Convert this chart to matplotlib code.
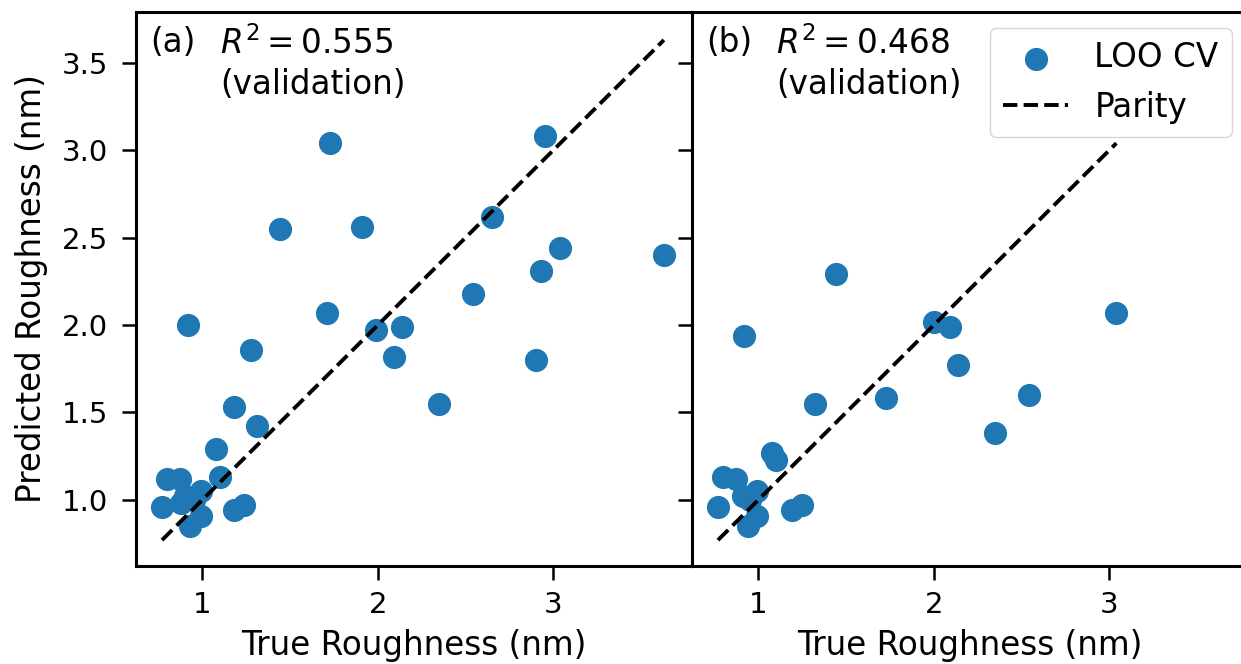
import numpy as np
import matplotlib
matplotlib.use('Agg')
import matplotlib.pyplot as plt

# panel (a): true vs predicted (LOO CV)
true_a = [1.73, 2.95, 1.44, 1.91, 2.65, 3.04, 2.93, 3.63, 2.54, 1.71, 0.92, 1.99,
          2.14, 2.09, 1.28, 2.90, 2.35, 1.18, 1.31, 1.08, 1.10, 0.80, 0.87, 0.77,
          0.99, 0.90, 0.93, 0.99, 1.18, 1.24, 0.95, 0.88]
pred_a = [3.04, 3.08, 2.55, 2.56, 2.62, 2.44, 2.31, 2.40, 2.18, 2.07, 2.00, 1.97,
          1.99, 1.82, 1.86, 1.80, 1.55, 1.53, 1.42, 1.29, 1.13, 1.12, 1.12, 0.96,
          1.05, 1.02, 0.85, 0.91, 0.94, 0.97, 1.00, 0.98]

# panel (b)
true_b = [1.44, 2.00, 2.09, 2.14, 3.04, 0.92, 1.73, 1.32, 2.54, 2.35, 1.08, 1.10,
          0.80, 0.87, 0.77, 0.99, 0.91, 0.94, 0.99, 1.19, 1.25, 0.95]
pred_b = [2.29, 2.02, 1.99, 1.77, 2.07, 1.94, 1.58, 1.55, 1.60, 1.38, 1.27, 1.23,
          1.13, 1.12, 0.96, 1.05, 1.02, 0.85, 0.91, 0.94, 0.97, 1.00]

r2_vals = ['0.555', '0.468']
tags = ['(a)', '(b)']
lims = (0.622, 3.79)

FS = 23.5
plt.rcParams['font.family'] = 'DejaVu Sans'
plt.rcParams['font.size'] = FS

fig = plt.figure(figsize=(12.41, 6.64), dpi=100)
W = 556 / 1241
ax1 = fig.add_axes([136 / 1241, 98 / 664, W, 554 / 664])
ax2 = fig.add_axes([692 / 1241, 98 / 664, W, 554 / 664], sharey=ax1)

for ax, xt, yp, tag, r2 in zip([ax1, ax2], [true_a, true_b], [pred_a, pred_b], tags, r2_vals):
    ax.scatter(xt, yp, s=245, color='#1f77b4', label='LOO CV', zorder=2)
    lo, hi = min(xt), max(xt)
    ax.plot([lo, hi], [lo, hi], 'k--', lw=2.8, label='Parity', zorder=3)
    ax.set_xlim(lims)
    ax.set_ylim(lims)
    ax.set_xticks([1, 2, 3])
    ax.set_xlabel('True Roughness (nm)', fontsize=FS, labelpad=7)
    ax.tick_params(labelsize=21, length=10, width=1.8, pad=8)
    for s in ax.spines.values():
        s.set_linewidth(2.2)
    ax.text(0.025, 0.975, tag, transform=ax.transAxes, va='top', ha='left', fontsize=FS)
    ax.text(0.151, 0.975, '$R^2 = ' + r2 + '$\n(validation)', transform=ax.transAxes,
            va='top', ha='left', fontsize=FS, linespacing=1.27)

ax1.set_yticks([1.0, 1.5, 2.0, 2.5, 3.0, 3.5])
ax1.tick_params(axis='y', pad=10)
ax1.set_ylabel('Predicted Roughness (nm)', fontsize=FS, labelpad=10)
ax2.tick_params(labelleft=False)
ax2.legend(loc='upper right', fontsize=FS, handlelength=2.0)

fig.savefig('out.png', dpi=100)
